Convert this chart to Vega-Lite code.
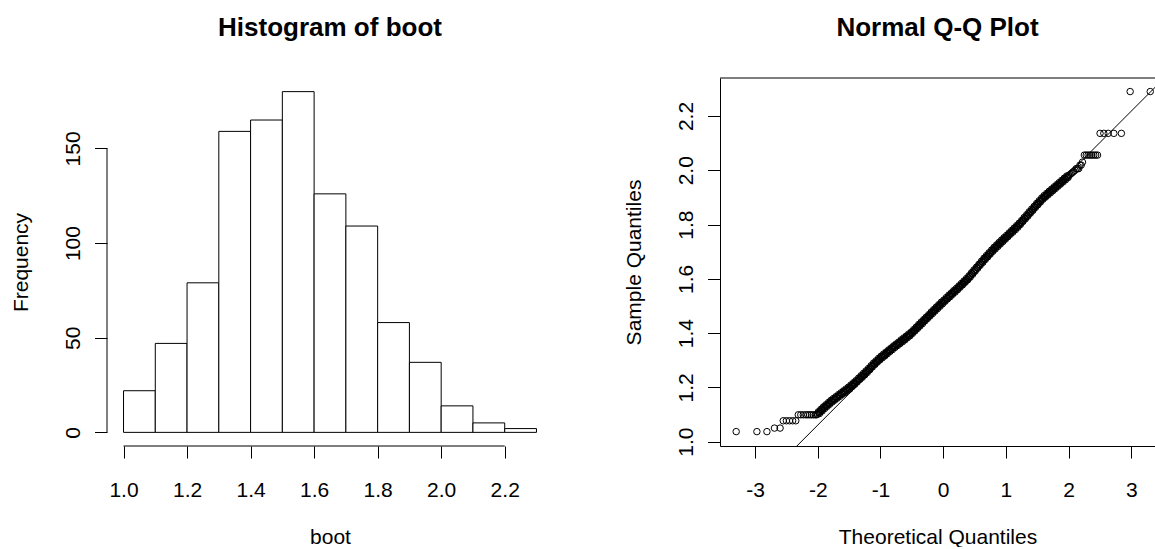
{
"$schema": "https://vega.github.io/schema/vega-lite/v6.json",
"background": "white",
"padding": {"left": 10, "top": 14, "right": 0, "bottom": 0},
"bounds": "flush",
"spacing": 167,
"config": {
  "font": "Liberation Sans",
  "view": {"stroke": null},
  "axis": {"domainColor": "black", "tickColor": "black", "labelColor": "black", "titleColor": "black", "labelFontSize": 21, "titleFontSize": 21, "titleFontWeight": "normal", "grid": false, "labelFont": "Liberation Sans", "titleFont": "Liberation Sans", "tickSize": 12, "domainWidth": 1, "tickWidth": 1, "labelFlush": false, "labelOverlap": false},
  "title": {"font": "Liberation Sans", "fontSize": 26, "fontWeight": "bold", "color": "black", "baseline": "alphabetic", "offset": 37, "anchor": "middle"}
},
"datasets": {
  "hist": [
    {"bin_start": 1.0, "bin_end": 1.1, "count": 22},
    {"bin_start": 1.1, "bin_end": 1.2, "count": 47},
    {"bin_start": 1.2, "bin_end": 1.3, "count": 79},
    {"bin_start": 1.3, "bin_end": 1.4, "count": 159},
    {"bin_start": 1.4, "bin_end": 1.5, "count": 165},
    {"bin_start": 1.5, "bin_end": 1.6, "count": 180},
    {"bin_start": 1.6, "bin_end": 1.7, "count": 126},
    {"bin_start": 1.7, "bin_end": 1.8, "count": 109},
    {"bin_start": 1.8, "bin_end": 1.9, "count": 58},
    {"bin_start": 1.9, "bin_end": 2.0, "count": 37},
    {"bin_start": 2.0, "bin_end": 2.1, "count": 14},
    {"bin_start": 2.1, "bin_end": 2.2, "count": 5},
    {"bin_start": 2.2, "bin_end": 2.3, "count": 2}
  ],
  "qqline": [{"t": -2.35, "s": 0.980}, {"t": 3.40, "s": 2.311}],
  "qq": [
    {"t":-3.30,"s":1.037},{"t":-2.97,"s":1.037},{"t":-2.81,"s":1.037},{"t":-2.69,"s":1.050},{"t":-2.60,"s":1.050},
    {"t":-2.55,"s":1.077},{"t":-2.50,"s":1.077},{"t":-2.45,"s":1.077},{"t":-2.40,"s":1.077},{"t":-2.35,"s":1.077},
    {"t":-2.31,"s":1.099},{"t":-2.27,"s":1.099},{"t":-2.23,"s":1.099},{"t":-2.19,"s":1.099},{"t":-2.16,"s":1.099},{"t":-2.13,"s":1.099},{"t":-2.10,"s":1.099},{"t":-2.07,"s":1.099},{"t":-2.04,"s":1.099},{"t":-2.02,"s":1.099},
    {"t":-2.00,"s":1.102},{"t":-1.98,"s":1.107},{"t":-1.96,"s":1.111},{"t":-1.94,"s":1.116},{"t":-1.92,"s":1.120},{"t":-1.90,"s":1.125},
    {"t":-1.88,"s":1.129},{"t":-1.86,"s":1.133},{"t":-1.84,"s":1.137},{"t":-1.82,"s":1.141},{"t":-1.80,"s":1.145},
    {"t":-1.78,"s":1.149},{"t":-1.76,"s":1.152},{"t":-1.74,"s":1.156},{"t":-1.72,"s":1.159},{"t":-1.70,"s":1.163},
    {"t":-1.68,"s":1.166},{"t":-1.66,"s":1.170},{"t":-1.64,"s":1.173},{"t":-1.62,"s":1.177},{"t":-1.60,"s":1.180},
    {"t":-1.58,"s":1.183},{"t":-1.56,"s":1.187},{"t":-1.54,"s":1.190},{"t":-1.52,"s":1.194},{"t":-1.50,"s":1.197},
    {"t":-1.48,"s":1.201},{"t":-1.46,"s":1.206},{"t":-1.44,"s":1.210},{"t":-1.42,"s":1.214},{"t":-1.40,"s":1.218},
    {"t":-1.38,"s":1.222},{"t":-1.36,"s":1.227},{"t":-1.34,"s":1.231},{"t":-1.32,"s":1.236},{"t":-1.30,"s":1.240},
    {"t":-1.28,"s":1.244},{"t":-1.26,"s":1.249},{"t":-1.24,"s":1.253},{"t":-1.22,"s":1.258},{"t":-1.20,"s":1.262},
    {"t":-1.18,"s":1.267},{"t":-1.16,"s":1.272},{"t":-1.14,"s":1.277},{"t":-1.12,"s":1.282},{"t":-1.10,"s":1.287},
    {"t":-1.08,"s":1.291},{"t":-1.06,"s":1.295},{"t":-1.04,"s":1.300},{"t":-1.02,"s":1.304},{"t":-1.00,"s":1.308},
    {"t":-0.98,"s":1.312},{"t":-0.96,"s":1.316},{"t":-0.94,"s":1.319},{"t":-0.92,"s":1.323},{"t":-0.90,"s":1.327},
    {"t":-0.88,"s":1.331},{"t":-0.86,"s":1.335},{"t":-0.84,"s":1.338},{"t":-0.82,"s":1.342},{"t":-0.80,"s":1.346},
    {"t":-0.78,"s":1.350},{"t":-0.76,"s":1.353},{"t":-0.74,"s":1.357},{"t":-0.72,"s":1.360},{"t":-0.70,"s":1.364},
    {"t":-0.68,"s":1.368},{"t":-0.66,"s":1.371},{"t":-0.64,"s":1.375},{"t":-0.62,"s":1.378},{"t":-0.60,"s":1.382},
    {"t":-0.58,"s":1.386},{"t":-0.56,"s":1.390},{"t":-0.54,"s":1.393},{"t":-0.52,"s":1.397},{"t":-0.50,"s":1.401},
    {"t":-0.48,"s":1.406},{"t":-0.46,"s":1.410},{"t":-0.44,"s":1.415},{"t":-0.42,"s":1.419},{"t":-0.40,"s":1.424},
    {"t":-0.38,"s":1.429},{"t":-0.36,"s":1.433},{"t":-0.34,"s":1.438},{"t":-0.32,"s":1.442},{"t":-0.30,"s":1.447},
    {"t":-0.28,"s":1.452},{"t":-0.26,"s":1.456},{"t":-0.24,"s":1.461},{"t":-0.22,"s":1.465},{"t":-0.20,"s":1.470},
    {"t":-0.18,"s":1.475},{"t":-0.16,"s":1.479},{"t":-0.14,"s":1.484},{"t":-0.12,"s":1.488},{"t":-0.10,"s":1.493},
    {"t":-0.08,"s":1.497},{"t":-0.06,"s":1.502},{"t":-0.04,"s":1.506},{"t":-0.02,"s":1.511},{"t":0.00,"s":1.515},
    {"t":0.02,"s":1.519},{"t":0.04,"s":1.524},{"t":0.06,"s":1.528},{"t":0.08,"s":1.533},{"t":0.10,"s":1.537},
    {"t":0.12,"s":1.541},{"t":0.14,"s":1.545},{"t":0.16,"s":1.550},{"t":0.18,"s":1.554},{"t":0.20,"s":1.558},
    {"t":0.22,"s":1.562},{"t":0.24,"s":1.567},{"t":0.26,"s":1.571},{"t":0.28,"s":1.576},{"t":0.30,"s":1.580},
    {"t":0.32,"s":1.585},{"t":0.34,"s":1.589},{"t":0.36,"s":1.594},{"t":0.38,"s":1.598},{"t":0.40,"s":1.603},
    {"t":0.42,"s":1.608},{"t":0.44,"s":1.614},{"t":0.46,"s":1.619},{"t":0.48,"s":1.625},{"t":0.50,"s":1.630},
    {"t":0.52,"s":1.635},{"t":0.54,"s":1.641},{"t":0.56,"s":1.646},{"t":0.58,"s":1.652},{"t":0.60,"s":1.657},
    {"t":0.62,"s":1.662},{"t":0.64,"s":1.668},{"t":0.66,"s":1.673},{"t":0.68,"s":1.678},{"t":0.70,"s":1.683},
    {"t":0.72,"s":1.688},{"t":0.74,"s":1.693},{"t":0.76,"s":1.698},{"t":0.78,"s":1.703},{"t":0.80,"s":1.708},
    {"t":0.82,"s":1.713},{"t":0.84,"s":1.717},{"t":0.86,"s":1.722},{"t":0.88,"s":1.726},{"t":0.90,"s":1.731},
    {"t":0.92,"s":1.735},{"t":0.94,"s":1.740},{"t":0.96,"s":1.744},{"t":0.98,"s":1.749},{"t":1.00,"s":1.753},
    {"t":1.02,"s":1.757},{"t":1.04,"s":1.762},{"t":1.06,"s":1.766},{"t":1.08,"s":1.771},{"t":1.10,"s":1.775},
    {"t":1.12,"s":1.779},{"t":1.14,"s":1.784},{"t":1.16,"s":1.788},{"t":1.18,"s":1.793},{"t":1.20,"s":1.797},
    {"t":1.22,"s":1.802},{"t":1.24,"s":1.807},{"t":1.26,"s":1.813},{"t":1.28,"s":1.818},{"t":1.30,"s":1.823},
    {"t":1.32,"s":1.828},{"t":1.34,"s":1.833},{"t":1.36,"s":1.839},{"t":1.38,"s":1.844},{"t":1.40,"s":1.849},
    {"t":1.42,"s":1.854},{"t":1.44,"s":1.859},{"t":1.46,"s":1.865},{"t":1.48,"s":1.870},{"t":1.50,"s":1.875},
    {"t":1.52,"s":1.880},{"t":1.54,"s":1.885},{"t":1.56,"s":1.890},{"t":1.58,"s":1.895},{"t":1.60,"s":1.900},
    {"t":1.62,"s":1.904},{"t":1.64,"s":1.908},{"t":1.66,"s":1.912},{"t":1.68,"s":1.916},{"t":1.70,"s":1.920},
    {"t":1.72,"s":1.924},{"t":1.74,"s":1.928},{"t":1.76,"s":1.932},{"t":1.78,"s":1.936},{"t":1.80,"s":1.940},
    {"t":1.82,"s":1.944},{"t":1.84,"s":1.948},{"t":1.86,"s":1.952},{"t":1.88,"s":1.956},{"t":1.90,"s":1.960},
    {"t":1.92,"s":1.964},{"t":1.94,"s":1.968},{"t":1.96,"s":1.972},{"t":1.98,"s":1.976},{"t":2.00,"s":1.980},
    {"t":2.02,"s":1.984},{"t":2.04,"s":1.988},{"t":2.06,"s":1.992},{"t":2.08,"s":1.996},{"t":2.10,"s":2.000},
    {"t":2.12,"s":2.006},{"t":2.14,"s":2.006},{"t":2.16,"s":2.006},{"t":2.18,"s":2.019},{"t":2.20,"s":2.019},{"t":2.22,"s":2.030},
    {"t":2.25,"s":2.056},{"t":2.28,"s":2.056},{"t":2.31,"s":2.056},{"t":2.34,"s":2.056},{"t":2.37,"s":2.056},{"t":2.40,"s":2.056},{"t":2.43,"s":2.056},{"t":2.46,"s":2.056},
    {"t":2.50,"s":2.136},{"t":2.56,"s":2.136},{"t":2.63,"s":2.136},{"t":2.72,"s":2.136},{"t":2.84,"s":2.136},
    {"t":2.98,"s":2.290},{"t":3.30,"s":2.290},
    {"t":-1.99,"s":1.110},{"t":-1.97,"s":1.104},{"t":-1.95,"s":1.119},{"t":-1.93,"s":1.113},{"t":-1.91,"s":1.128},{"t":-1.89,"s":1.122},{"t":-1.87,"s":1.136},{"t":-1.85,"s":1.130},{"t":-1.83,"s":1.144},{"t":-1.81,"s":1.138},
    {"t":-1.79,"s":1.152},{"t":-1.77,"s":1.146},{"t":-1.75,"s":1.159},{"t":-1.73,"s":1.153},{"t":-1.71,"s":1.166},{"t":-1.69,"s":1.160},{"t":-1.67,"s":1.173},{"t":-1.65,"s":1.167},{"t":-1.63,"s":1.180},{"t":-1.61,"s":1.174},
    {"t":-1.59,"s":1.187},{"t":-1.57,"s":1.180},{"t":-1.55,"s":1.194},{"t":-1.53,"s":1.187},{"t":-1.51,"s":1.201},{"t":-1.49,"s":1.194},{"t":-1.47,"s":1.209},{"t":-1.45,"s":1.203},{"t":-1.43,"s":1.217},{"t":-1.41,"s":1.211},
    {"t":-1.39,"s":1.225},{"t":-1.37,"s":1.220},{"t":-1.35,"s":1.234},{"t":-1.33,"s":1.229},{"t":-1.31,"s":1.243},{"t":-1.29,"s":1.237},{"t":-1.27,"s":1.252},{"t":-1.25,"s":1.246},{"t":-1.23,"s":1.261},{"t":-1.21,"s":1.255},
    {"t":-1.19,"s":1.270},{"t":-1.17,"s":1.265},{"t":-1.15,"s":1.280},{"t":-1.13,"s":1.275},{"t":-1.11,"s":1.290},{"t":-1.09,"s":1.284},{"t":-1.07,"s":1.298},{"t":-1.05,"s":1.293},{"t":-1.03,"s":1.307},{"t":-1.01,"s":1.301},
    {"t":-0.99,"s":1.315},{"t":-0.97,"s":1.309},{"t":-0.95,"s":1.323},{"t":-0.93,"s":1.316},{"t":-0.91,"s":1.330},{"t":-0.89,"s":1.324},{"t":-0.87,"s":1.338},{"t":-0.85,"s":1.332},{"t":-0.83,"s":1.345},{"t":-0.81,"s":1.339},
    {"t":-0.79,"s":1.353},{"t":-0.77,"s":1.347},{"t":-0.75,"s":1.360},{"t":-0.73,"s":1.354},{"t":-0.71,"s":1.367},{"t":-0.69,"s":1.361},{"t":-0.67,"s":1.375},{"t":-0.65,"s":1.368},{"t":-0.63,"s":1.382},{"t":-0.61,"s":1.375},
    {"t":-0.59,"s":1.389},{"t":-0.57,"s":1.383},{"t":-0.55,"s":1.397},{"t":-0.53,"s":1.390},{"t":-0.51,"s":1.404},{"t":-0.49,"s":1.399},{"t":-0.47,"s":1.413},{"t":-0.45,"s":1.408},{"t":-0.43,"s":1.422},{"t":-0.41,"s":1.417},
    {"t":-0.39,"s":1.432},{"t":-0.37,"s":1.426},{"t":-0.35,"s":1.441},{"t":-0.33,"s":1.435},{"t":-0.31,"s":1.450},{"t":-0.29,"s":1.445},{"t":-0.27,"s":1.459},{"t":-0.25,"s":1.454},{"t":-0.23,"s":1.468},{"t":-0.21,"s":1.463},
    {"t":-0.19,"s":1.478},{"t":-0.17,"s":1.472},{"t":-0.15,"s":1.487},{"t":-0.13,"s":1.481},{"t":-0.11,"s":1.496},{"t":-0.09,"s":1.490},{"t":-0.07,"s":1.505},{"t":-0.05,"s":1.499},{"t":-0.03,"s":1.514},{"t":-0.01,"s":1.508},
    {"t":0.01,"s":1.522},{"t":0.03,"s":1.517},{"t":0.05,"s":1.531},{"t":0.07,"s":1.526},{"t":0.09,"s":1.540},{"t":0.11,"s":1.534},{"t":0.13,"s":1.548},{"t":0.15,"s":1.543},{"t":0.17,"s":1.557},{"t":0.19,"s":1.551},
    {"t":0.21,"s":1.565},{"t":0.23,"s":1.560},{"t":0.25,"s":1.574},{"t":0.27,"s":1.569},{"t":0.29,"s":1.583},{"t":0.31,"s":1.578},{"t":0.33,"s":1.592},{"t":0.35,"s":1.587},{"t":0.37,"s":1.601},{"t":0.39,"s":1.596},
    {"t":0.41,"s":1.611},{"t":0.43,"s":1.606},{"t":0.45,"s":1.622},{"t":0.47,"s":1.617},{"t":0.49,"s":1.633},{"t":0.51,"s":1.628},{"t":0.53,"s":1.643},{"t":0.55,"s":1.639},{"t":0.57,"s":1.654},{"t":0.59,"s":1.650},
    {"t":0.61,"s":1.665},{"t":0.63,"s":1.660},{"t":0.65,"s":1.676},{"t":0.67,"s":1.671},{"t":0.69,"s":1.686},{"t":0.71,"s":1.681},{"t":0.73,"s":1.696},{"t":0.75,"s":1.691},{"t":0.77,"s":1.706},{"t":0.79,"s":1.701},
    {"t":0.81,"s":1.716},{"t":0.83,"s":1.710},{"t":0.85,"s":1.725},{"t":0.87,"s":1.719},{"t":0.89,"s":1.734},{"t":0.91,"s":1.728},{"t":0.93,"s":1.743},{"t":0.95,"s":1.737},{"t":0.97,"s":1.752},{"t":0.99,"s":1.746},
    {"t":1.01,"s":1.760},{"t":1.03,"s":1.755},{"t":1.05,"s":1.769},{"t":1.07,"s":1.764},{"t":1.09,"s":1.778},{"t":1.11,"s":1.772},{"t":1.13,"s":1.787},{"t":1.15,"s":1.781},{"t":1.17,"s":1.796},{"t":1.19,"s":1.790},
    {"t":1.21,"s":1.805},{"t":1.23,"s":1.800},{"t":1.25,"s":1.815},{"t":1.27,"s":1.811},{"t":1.29,"s":1.826},{"t":1.31,"s":1.821},{"t":1.33,"s":1.836},{"t":1.35,"s":1.831},{"t":1.37,"s":1.847},{"t":1.39,"s":1.842},
    {"t":1.41,"s":1.857},{"t":1.43,"s":1.852},{"t":1.45,"s":1.867},{"t":1.47,"s":1.863},{"t":1.49,"s":1.878},{"t":1.51,"s":1.873},{"t":1.53,"s":1.888},{"t":1.55,"s":1.883},{"t":1.57,"s":1.898},{"t":1.59,"s":1.893},
    {"t":1.61,"s":1.907},{"t":1.63,"s":1.901},{"t":1.65,"s":1.915},{"t":1.67,"s":1.909},{"t":1.69,"s":1.923},{"t":1.71,"s":1.917},{"t":1.73,"s":1.931},{"t":1.75,"s":1.925},{"t":1.77,"s":1.939},{"t":1.79,"s":1.933},
    {"t":1.81,"s":1.947},{"t":1.83,"s":1.941},{"t":1.85,"s":1.955},{"t":1.87,"s":1.949},{"t":1.89,"s":1.963},{"t":1.91,"s":1.957},{"t":1.93,"s":1.971},{"t":1.95,"s":1.965},{"t":1.97,"s":1.979},{"t":1.99,"s":1.973}
  ]
},
"hconcat": [
  {
    "width": 446, "height": 368,
    "title": "Histogram of boot",
    "layer": [
      {
        "data": {"name": "hist"},
        "mark": {"type": "rect", "fill": "white", "stroke": "black", "strokeWidth": 1},
        "encoding": {
          "x": {"field": "bin_start", "type": "quantitative",
                "scale": {"domain": [0.948, 2.352], "nice": false, "zero": false},
                "axis": {"title": "boot", "values": [1.0, 1.2, 1.4, 1.6, 1.8, 2.0, 2.2], "format": ".1f", "domain": false,
                         "labelBaseline": "alphabetic", "labelPadding": 38, "titleBaseline": "alphabetic", "titlePadding": 43}},
          "x2": {"field": "bin_end"},
          "y": {"field": "count", "type": "quantitative",
                "scale": {"domain": [-7.2, 187.2], "nice": false, "zero": false},
                "axis": {"title": "Frequency", "values": [0, 50, 100, 150], "domain": false, "tickSize": 12.5,
                         "labelAngle": -90, "labelAlign": "center", "labelBaseline": "alphabetic", "labelPadding": 15,
                         "titleBaseline": "alphabetic", "titlePadding": 35}},
          "y2": {"datum": 0}
        }
      },
      {
        "data": {"values": [{}]},
        "mark": {"type": "rule", "color": "black", "strokeWidth": 1},
        "encoding": {"x": {"datum": 1.0}, "x2": {"datum": 2.2}, "y": {"datum": -7.2}}
      },
      {
        "data": {"values": [{}]},
        "mark": {"type": "rule", "color": "black", "strokeWidth": 1},
        "encoding": {"x": {"datum": 0.948}, "y": {"datum": 0}, "y2": {"datum": 150}}
      }
    ]
  },
  {
    "width": 435, "height": 368,
    "title": "Normal Q-Q Plot",
    "layer": [
      {
        "data": {"name": "qq"},
        "mark": {"type": "point", "shape": "circle", "filled": false, "color": "black", "strokeWidth": 1, "size": 42, "opacity": 1, "clip": true},
        "encoding": {
          "x": {"field": "t", "type": "quantitative",
                "scale": {"domain": [-3.558, 3.376], "nice": false, "zero": false},
                "axis": {"title": "Theoretical Quantiles", "values": [-3, -2, -1, 0, 1, 2, 3], "labelExpr": "'' + datum.value",
                         "labelBaseline": "alphabetic", "labelPadding": 38, "titleBaseline": "alphabetic", "titlePadding": 43}},
          "y": {"field": "s", "type": "quantitative",
                "scale": {"domain": [0.984, 2.34], "nice": false, "zero": false},
                "axis": {"title": "Sample Quantiles", "values": [1.0, 1.2, 1.4, 1.6, 1.8, 2.0, 2.2], "format": ".1f", "tickSize": 12.5,
                         "labelAngle": -90, "labelAlign": "center", "labelBaseline": "alphabetic", "labelPadding": 15,
                         "titleBaseline": "alphabetic", "titlePadding": 35}}
        }
      },
      {
        "data": {"name": "qqline"},
        "mark": {"type": "line", "color": "black", "strokeWidth": 1, "clip": true},
        "encoding": {"x": {"field": "t", "type": "quantitative"}, "y": {"field": "s", "type": "quantitative"}}
      },
      {
        "data": {"values": [{}]},
        "mark": {"type": "rule", "color": "black", "strokeWidth": 1},
        "encoding": {"y": {"datum": 2.34}}
      }
    ]
  }
]
}
